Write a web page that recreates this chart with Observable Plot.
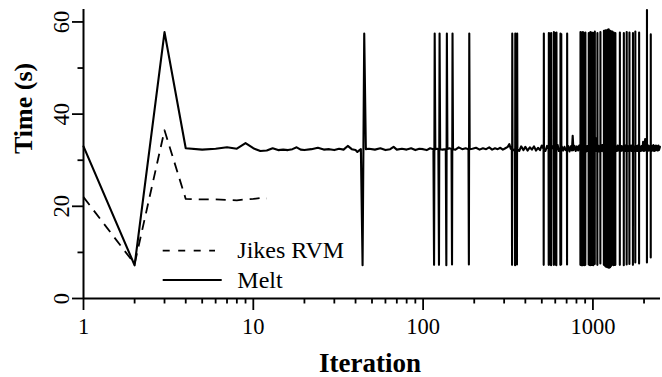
<!DOCTYPE html>
<html>
<head>
<meta charset="utf-8">
<script src="https://cdn.jsdelivr.net/npm/d3@7"></script>
<script src="https://cdn.jsdelivr.net/npm/@observablehq/plot@0.6"></script>
<style>
  body { margin: 0; background: #fff; }
  #wrap { position: relative; width: 662px; height: 377px; background: #fff;
          font-family: "Liberation Serif", serif; color: #000; }
  #legend { position: absolute; left: 160px; top: 236px; }
</style>
</head>
<body>
<div id="wrap"></div>
<script>
// ---- data ----
const seriesNames = ["Jikes RVM", "Melt"];

const jikesIter = [1, 2, 3, 4, 5, 6, 7, 8, 9, 10, 11, 12];
const jikesTime = [22.0, 7.5, 36.5, 21.6, 21.5, 21.5, 21.4, 21.3, 21.5, 21.6, 21.8, 21.7];

// Melt steady-state samples [iteration, seconds]
const meltBase = [
  [1, 33.0], [2, 7.2], [3, 57.8], [4, 32.6], [5, 32.3], [6, 32.5], [7, 32.8], [8, 32.5],
  [9, 33.7], [10, 32.6], [11, 32.0], [12, 32.1], [13, 32.6], [14, 32.2], [15, 32.3],
  [16, 32.2], [17, 32.4], [18, 32.8], [19, 32.3], [20, 32.2], [22, 32.4], [24, 32.7],
  [26, 32.3], [28, 32.4], [30, 32.2], [32, 32.5], [34, 32.3], [36, 33.1], [38, 32.4],
  [40, 32.2], [41, 31.8], [48, 32.5], [52, 32.3], [56, 32.6], [60, 32.2], [64, 32.4],
  [67, 32.9], [70, 32.3], [75, 32.5], [80, 32.3], [85, 32.6], [90, 32.2], [95, 32.5],
  [100, 32.4], [105, 32.2], [110, 32.6], [121, 32.5], [130, 32.3], [143, 32.6],
  [155, 32.3], [162, 32.8], [170, 32.4], [178, 32.6], [195, 32.5], [205, 32.7],
  [215, 32.3], [225, 32.6], [235, 32.4], [245, 32.8], [255, 32.3], [265, 32.6],
  [275, 32.4], [285, 32.7], [295, 32.3], [305, 32.6], [315, 32.9], [322, 33.5],
  [328, 32.5], [341, 32.2], [368, 32.0], [378, 33.0], [390, 32.2], [400, 32.9],
  [412, 32.1], [425, 32.8], [437, 32.3], [450, 33.0], [462, 32.1], [475, 32.7],
  [488, 32.2], [500, 33.2], [525, 32.0], [537, 33.1], [558, 32.1], [578, 33.0],
  [598, 32.2], [620, 33.3], [630, 32.0], [655, 33.0], [668, 32.1], [680, 32.9],
  [692, 32.2], [715, 33.1], [728, 31.9], [740, 33.0], [752, 32.1], [760, 35.3],
  [768, 32.2], [780, 33.1], [792, 32.0], [805, 33.0], [818, 32.1], [830, 33.2],
  [915, 31.9], [925, 33.1], [935, 32.0], [1045, 32.0], [1050, 34.8], [1055, 32.1],
  [1075, 33.2], [1088, 31.9], [1095, 33.0], [1120, 32.0], [1135, 33.3], [1148, 31.9],
  [1370, 33.0], [1385, 32.0], [1400, 33.2], [1415, 32.1], [1428, 33.0], [1460, 32.0],
  [1475, 33.1], [1490, 32.1], [1505, 33.0], [1540, 32.0], [1555, 33.2], [1568, 32.1],
  [1600, 33.1], [1615, 32.0], [1630, 33.0], [1665, 32.1], [1680, 33.2], [1695, 32.0],
  [1708, 33.1], [1750, 32.0], [1762, 33.0], [1795, 32.1], [1810, 33.1], [1825, 32.0],
  [1840, 33.2], [1855, 32.1], [1895, 33.0], [1915, 32.0], [1935, 33.1], [1955, 32.1],
  [1975, 34.0], [1995, 32.0], [2015, 33.1], [2030, 34.6], [2045, 32.1], [2060, 33.0],
  [2100, 32.0], [2120, 33.2], [2140, 32.1], [2160, 33.0], [2210, 32.0], [2230, 33.1],
  [2250, 32.1], [2270, 33.3], [2290, 32.0], [2310, 33.1], [2330, 32.1], [2350, 33.2],
  [2370, 32.2], [2390, 33.0], [2410, 32.1], [2430, 33.2], [2450, 32.2], [2480, 32.9]
];

// Melt outliers: [iteration of fast run, fast seconds, slow seconds (next iteration)]
const meltSpikes = [
  [44, 7.2, 57.5],
  [116, 7.3, 57.5], [124, 7.3, 57.5], [137, 7.2, 57.5], [148, 7.4, 57.5], [186, 7.4, 57.5],
  [334, 7.3, 57.5], [348, 7.2, 57.5], [357, 7.4, 57.5],
  [513, 7.3, 57.5], [549, 7.3, 57.6], [557, 7.4, 57.5], [567, 7.2, 57.6], [588, 7.3, 57.8],
  [598, 7.4, 57.6], [609, 7.2, 57.7], [643, 7.3, 57.5], [650, 7.4, 57.4], [704, 7.4, 57.5],
  [844, 7.3, 57.8], [850, 7.4, 57.6], [855, 7.2, 57.7], [860, 7.3, 57.5], [866, 7.3, 57.6],
  [872, 7.2, 57.8], [877, 7.4, 57.7], [882, 7.3, 57.5], [892, 7.2, 57.6], [902, 7.3, 57.7],
  [944, 7.4, 57.6], [952, 7.3, 57.5], [965, 7.2, 57.8], [985, 7.3, 57.7], [1005, 7.2, 57.6],
  [1025, 7.5, 57.9], [1062, 7.3, 57.6], [1106, 7.6, 57.8],
  [1160, 7.3, 58.1], [1172, 7.2, 57.9], [1183, 7.0, 58.2], [1194, 6.9, 58.1], [1205, 6.9, 58.0],
  [1215, 6.8, 58.3], [1225, 6.8, 58.3], [1237, 6.7, 58.4], [1250, 6.7, 58.2], [1262, 6.8, 58.1],
  [1275, 7.0, 58.0], [1288, 7.2, 57.9], [1300, 7.4, 57.9], [1325, 7.2, 57.7], [1340, 7.3, 57.6],
  [1355, 7.3, 57.6],
  [1440, 7.3, 57.7], [1520, 7.2, 57.6], [1580, 7.4, 57.8], [1640, 7.5, 57.7], [1720, 7.3, 57.6],
  [1776, 7.8, 57.9], [1870, 7.6, 57.7],
  [2080, 7.8, 62.6], [2190, 8.9, 57.3]
];
const meltShoulder = 32.4;

const xMajorTicks = [1, 10, 100, 1000];
const xMinorTicks = [2, 3, 4, 5, 6, 7, 8, 9, 20, 30, 40, 50, 60, 70, 80, 90,
                     200, 300, 400, 500, 600, 700, 800, 900, 2000];
const yMajorTicks = [0, 20, 40, 60];
const yMinorTicks = [10, 30, 50];

// ---- tables ----
const jikes = jikesIter.map((iteration, k) => ({iteration, time: jikesTime[k]}));
const spikePts = meltSpikes.flatMap(([i, lo, hi]) =>
  [[i - 1, meltShoulder], [i, lo], [i + 1, hi], [i + 2, meltShoulder]]);
const basePts = meltBase.filter(([b]) => !meltSpikes.some(([i]) => b >= i - 1 && b <= i + 2));
const melt = [...basePts, ...spikePts].sort((a, b) => a[0] - b[0])
  .map(([iteration, time]) => ({iteration, time}));

const serif = "Liberation Serif";
const chart = Plot.plot({
  width: 662,
  height: 377,
  marginLeft: 83,
  marginRight: 2,
  marginTop: 9,
  marginBottom: 79,
  style: {fontFamily: serif, background: "#fff", color: "#000", overflow: "visible"},
  x: {type: "log", domain: [1, 2500], axis: null},
  y: {domain: [0, 62.7], axis: null},
  marks: [
    Plot.line(melt, {x: "iteration", y: "time", stroke: "#000", strokeWidth: 2.1}),
    Plot.line(jikes, {x: "iteration", y: "time", stroke: "#000", strokeWidth: 1.8,
                      strokeDasharray: "10,7", strokeLinecap: "butt"}),
    Plot.ruleX([1], {stroke: "#000", strokeWidth: 2}),
    Plot.ruleY([0], {stroke: "#000", strokeWidth: 2}),
    Plot.axisX({ticks: xMajorTicks, tickSize: 12, tickFormat: () => "", label: null, strokeWidth: 1.8, anchor: "bottom"}),
    Plot.axisX({ticks: xMinorTicks, tickSize: 5.5, tickFormat: () => "", label: null, strokeWidth: 1.8, anchor: "bottom"}),
    Plot.axisY({ticks: yMajorTicks, tickSize: 11, tickFormat: () => "", label: null, strokeWidth: 1.8, anchor: "left"}),
    Plot.axisY({ticks: yMinorTicks, tickSize: 5.5, tickFormat: () => "", label: null, strokeWidth: 1.8, anchor: "left"}),
    Plot.text(xMajorTicks, {x: d => d, text: d => String(d), frameAnchor: "bottom", dy: 28.3,
                            lineAnchor: "middle", fontSize: 22.5, fontFamily: serif, fill: "#000"}),
    Plot.text(yMajorTicks, {y: d => d, text: d => String(d), frameAnchor: "left", dx: -21.5,
                            rotate: -90, lineAnchor: "middle", textAnchor: "middle", fontSize: 22.5,
                            fontFamily: serif, fill: "#000"}),
    Plot.text(["Time (s)"], {text: d => d, frameAnchor: "left", dx: -59.7, rotate: -90,
                             lineAnchor: "middle", fontSize: 26, fontWeight: "bold", fontFamily: serif, fill: "#000"}),
    Plot.text(["Iteration"], {text: d => d, frameAnchor: "bottom", dy: 64.5, dx: -2,
                              lineAnchor: "middle", fontSize: 27, fontWeight: "bold", fontFamily: serif, fill: "#000"})
  ]
});
const wrap = document.getElementById("wrap");
wrap.appendChild(chart);

// ---- legend ----
const legend = d3.select(wrap).append("svg").attr("id", "legend")
  .attr("width", 200).attr("height", 60);
const rows = legend.selectAll("g").data(seriesNames).join("g")
  .attr("transform", (d, k) => `translate(0,${k === 0 ? 14.7 : 44})`);
rows.append("line")
  .attr("x1", 2.7).attr("x2", (d, k) => k === 0 ? 55 : 61.7)
  .attr("y1", 0).attr("y2", 0)
  .attr("stroke", "#000").attr("stroke-width", 1.8)
  .attr("stroke-dasharray", (d, k) => k === 0 ? "7,8.5" : null);
rows.append("text")
  .attr("x", 77.3).attr("dy", "0.32em")
  .attr("font-family", serif).attr("font-size", 24).attr("fill", "#000")
  .text(d => d);
</script>
</body>
</html>
